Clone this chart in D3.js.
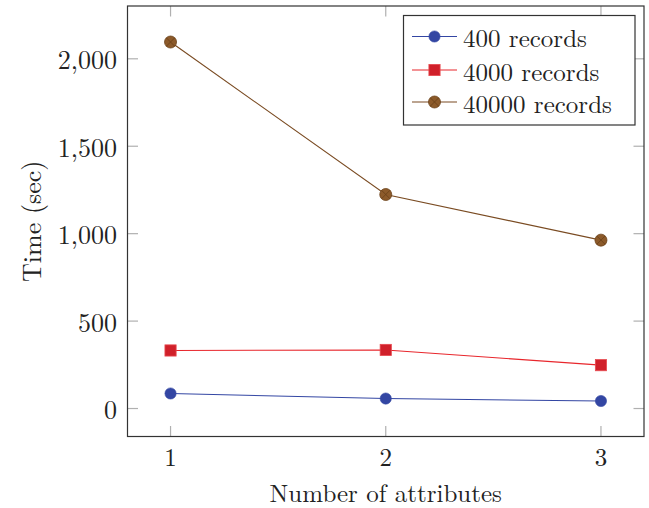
<!DOCTYPE html>
<html>
<head>
<meta charset="utf-8">
<script src="https://cdn.jsdelivr.net/npm/d3@7"></script>
<style>
  body { margin: 0; background: #fff; }
  text { font-family: "Latin Modern Roman", "Liberation Serif", serif; fill: #222; }
</style>
</head>
<body>
<svg id="chart" width="649" height="508"></svg>
<script>
var attributes = [1, 2, 3];
var records400 = [86, 57, 43];
var records4000 = [332, 335, 248];
var records40000 = [2096, 1224, 963];
var yTicks = [0, 500, 1000, 1500, 2000];
var seriesNames = ["400 records", "4000 records", "40000 records"];

var svg = d3.select("svg#chart");

var plotLeft = 127.5, plotRight = 644, plotTop = 6, plotBottom = 436.5;
var tickLen = 10.5;

var x = d3.scaleLinear().domain([0.8, 3.2]).range([plotLeft, plotRight]);
var y = d3.scaleLinear().domain([-160, 2302]).range([plotBottom, plotTop]);

var series = [
  {name: seriesNames[0], values: records400, line: "#3346a3", fill: "#3346a3", marker: "circle"},
  {name: seriesNames[1], values: records4000, line: "#e8262c", fill: "#d0202a", marker: "square"},
  {name: seriesNames[2], values: records40000, line: "#7a4b22", fill: "#8c5a2a", marker: "otimes"}
];

// ticks (inside, on both sides)
var tickColor = "#b0b0b0";
svg.selectAll("line.ytickL").data(yTicks).enter().append("line")
  .attr("x1", plotLeft).attr("x2", plotLeft + tickLen)
  .attr("y1", d => y(d)).attr("y2", d => y(d))
  .attr("stroke", tickColor).attr("stroke-width", 1.2);
svg.selectAll("line.ytickR").data(yTicks).enter().append("line")
  .attr("x1", plotRight).attr("x2", plotRight - tickLen)
  .attr("y1", d => y(d)).attr("y2", d => y(d))
  .attr("stroke", tickColor).attr("stroke-width", 1.2);
svg.selectAll("line.xtickB").data(attributes).enter().append("line")
  .attr("x1", d => x(d)).attr("x2", d => x(d))
  .attr("y1", plotBottom).attr("y2", plotBottom - tickLen)
  .attr("stroke", tickColor).attr("stroke-width", 1.2);
svg.selectAll("line.xtickT").data(attributes).enter().append("line")
  .attr("x1", d => x(d)).attr("x2", d => x(d))
  .attr("y1", plotTop).attr("y2", plotTop + tickLen)
  .attr("stroke", tickColor).attr("stroke-width", 1.2);

// frame
svg.append("rect")
  .attr("x", plotLeft).attr("y", plotTop)
  .attr("width", plotRight - plotLeft).attr("height", plotBottom - plotTop)
  .attr("fill", "none").attr("stroke", "#333").attr("stroke-width", 1.2);

// tick labels
var fmt = d3.format(",");
svg.selectAll("text.ylab").data(yTicks).enter().append("text")
  .attr("x", 117).attr("y", d => y(d))
  .attr("text-anchor", "end").attr("dominant-baseline", "central")
  .attr("font-size", 26)
  .text(d => fmt(d));
svg.selectAll("text.xlab").data(attributes).enter().append("text")
  .attr("x", d => x(d)).attr("y", 455)
  .attr("text-anchor", "middle").attr("dominant-baseline", "central")
  .attr("font-size", 25)
  .text(d => d);

// axis titles
svg.append("text")
  .attr("x", (plotLeft + plotRight) / 2).attr("y", 491)
  .attr("text-anchor", "middle").attr("dominant-baseline", "central")
  .attr("font-size", 25)
  .text("Number of attributes");
svg.append("text")
  .attr("transform", "translate(30," + ((plotTop + plotBottom) / 2) + ") rotate(-90)")
  .attr("text-anchor", "middle").attr("dominant-baseline", "central")
  .attr("font-size", 26)
  .text("Time (sec)");

function drawMarker(g, type, cx, cy, s) {
  if (type === "circle") {
    g.append("circle").attr("cx", cx).attr("cy", cy).attr("r", 5.6)
      .attr("fill", s.fill).attr("stroke", s.fill).attr("stroke-width", 0.6);
  } else if (type === "square") {
    g.append("rect").attr("x", cx - 5.6).attr("y", cy - 5.6)
      .attr("width", 11.2).attr("height", 11.2)
      .attr("fill", s.fill).attr("stroke", "#e84a50").attr("stroke-width", 0.8);
  } else {
    var r = 6;
    g.append("circle").attr("cx", cx).attr("cy", cy).attr("r", r)
      .attr("fill", s.fill).attr("stroke", "#6a4018").attr("stroke-width", 0.8);
    var d = r * 0.7;
    g.append("line").attr("x1", cx - d).attr("y1", cy - d).attr("x2", cx + d).attr("y2", cy + d)
      .attr("stroke", "#6a4018").attr("stroke-width", 0.8);
    g.append("line").attr("x1", cx - d).attr("y1", cy + d).attr("x2", cx + d).attr("y2", cy - d)
      .attr("stroke", "#6a4018").attr("stroke-width", 0.8);
  }
}

var line = d3.line().x((d, i) => x(attributes[i])).y(d => y(d));

series.forEach(function(s) {
  var g = svg.append("g");
  g.append("path").datum(s.values)
    .attr("d", line)
    .attr("fill", "none").attr("stroke", s.line).attr("stroke-width", 1.1);
  s.values.forEach(function(v, i) {
    drawMarker(g, s.marker, x(attributes[i]), y(v), s);
  });
});

// legend
var lg = svg.append("g");
lg.append("rect")
  .attr("x", 403.5).attr("y", 15.5).attr("width", 231.5).attr("height", 109.5)
  .attr("fill", "#fff").attr("stroke", "#333").attr("stroke-width", 1.2);
var legendY = [36.5, 70, 102];
series.forEach(function(s, i) {
  var ly = legendY[i];
  lg.append("line").attr("x1", 412).attr("x2", 457).attr("y1", ly).attr("y2", ly)
    .attr("stroke", s.line).attr("stroke-width", 1.1);
  drawMarker(lg, s.marker, 434.5, ly, s);
  lg.append("text").attr("x", 463).attr("y", ly)
    .attr("dominant-baseline", "central").attr("font-size", 25)
    .text(s.name);
});
</script>
</body>
</html>
